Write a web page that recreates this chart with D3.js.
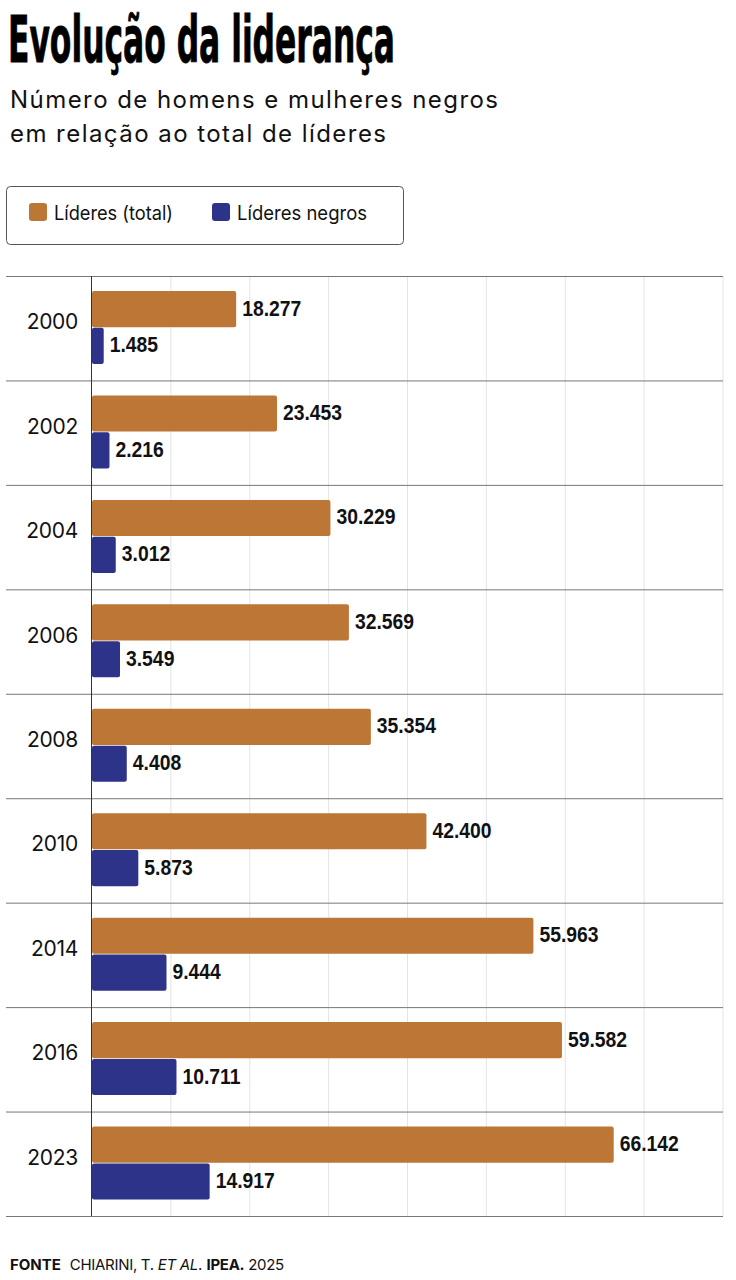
<!DOCTYPE html>
<html><head><meta charset="utf-8">
<script src="https://cdn.jsdelivr.net/npm/d3@7"></script>
<style>body{margin:0;background:#fff}svg{display:block}</style>
</head><body>
<script>
const years = ["2000","2002","2004","2006","2008","2010","2014","2016","2023"];
const totalLeaders = [18277,23453,30229,32569,35354,42400,55963,59582,66142];
const blackLeaders = [1485,2216,3012,3549,4408,5873,9444,10711,14917];
const seriesNames = ["Líderes (total)","Líderes negros"];
const xTicks = [0,10000,20000,30000,40000,50000,60000,70000,80000];

const W=736,H=1280;
const colors=["#BC7635","#2E338A"];
const svg=d3.select("body").append("svg").attr("width",W).attr("height",H);

const condensed='"DejaVu Sans Condensed","Liberation Sans",sans-serif';
const arial='"Liberation Sans",Arial,sans-serif';
const sans='Inter,"Noto Sans",sans-serif';

svg.append("text").attr("x",8).attr("y",62).text("Evolução da liderança")
  .attr("font-family",condensed).attr("font-weight",700).attr("font-size",64)
  .attr("textLength",387).attr("lengthAdjust","spacingAndGlyphs").attr("fill","#000")
  .attr("stroke","#000").attr("stroke-width",0.8);
svg.append("text").attr("x",10).attr("y",108).text("Número de homens e mulheres negros")
  .attr("font-family",sans).attr("font-size",24).attr("textLength",488).attr("lengthAdjust","spacing").attr("fill","#111");
svg.append("text").attr("x",10).attr("y",142).text("em relação ao total de líderes")
  .attr("font-family",sans).attr("font-size",24).attr("textLength",376).attr("lengthAdjust","spacing").attr("fill","#111");

svg.append("rect").attr("x",6.5).attr("y",186.5).attr("width",397).attr("height",58).attr("rx",4)
  .attr("fill","none").attr("stroke","#555");
const legX=[29,212];
const legW=[119,130];
seriesNames.forEach((n,i)=>{
  svg.append("rect").attr("x",legX[i]).attr("y",203).attr("width",18).attr("height",18).attr("rx",3).attr("fill",colors[i]);
  svg.append("text").attr("x",legX[i]+25).attr("y",220).text(n)
    .attr("font-family",sans).attr("font-size",19.5).attr("textLength",legW[i]).attr("lengthAdjust","spacingAndGlyphs").attr("fill","#111");
});

const x=d3.scaleLinear().domain([0,80000]).range([92,723]);
const y=d3.scaleBand().domain(years).range([276,1216]);
const sub=d3.scaleBand().domain([0,1]).range([15,88]).paddingInner(0.02);

const g=svg.append("g");
g.selectAll("line.grid").data(xTicks.slice(1)).join("line")
  .attr("x1",d=>x(d)).attr("x2",d=>x(d)).attr("y1",276).attr("y2",1216)
  .attr("stroke","#e4e4e4").attr("stroke-width",1);

years.forEach((yr,i)=>{
  const vals=[totalLeaders[i],blackLeaders[i]];
  vals.forEach((v,j)=>{
    const y0=y(yr)+sub(j);
    g.append("rect").attr("x",x(0)).attr("y",y0).attr("width",x(v)-x(0)).attr("height",sub.bandwidth())
      .attr("rx",2).attr("fill",colors[j]);
    g.append("text").attr("transform",`translate(${x(v)+6},${y0+sub.bandwidth()/2+6.5}) scale(0.86,1)`)
      .text(d3.format(",")(v).replace(/,/g,"."))
      .attr("font-family",arial).attr("font-weight",700).attr("font-size",22.5).attr("fill","#111");
  });
  g.append("text").attr("x",78).attr("y",y(yr)+y.bandwidth()/2+1).attr("text-anchor","end")
    .text(yr).attr("font-family",sans).attr("font-size",21).attr("letter-spacing",-0.3).attr("fill","#111");
});

g.selectAll("line.sep").data(years.map(d=>y(d)).concat([1216])).join("line")
  .attr("x1",6).attr("x2",723).attr("y1",d=>d+0.5).attr("y2",d=>d+0.5)
  .attr("stroke","#777").attr("stroke-width",1);
g.append("line").attr("x1",x(0)-0.5).attr("x2",x(0)-0.5).attr("y1",276).attr("y2",1216).attr("stroke","#333");

const f=svg.append("text").attr("x",10).attr("y",1270).attr("font-size",15).attr("fill","#111");
f.append("tspan").text("FONTE").attr("font-family",sans).attr("font-weight",700);
f.append("tspan").text(" CHIARINI, T. ").attr("font-family",sans).attr("dx",5).attr("letter-spacing",-0.3);
f.append("tspan").text("ET AL").attr("font-family",sans).attr("font-style","italic").attr("letter-spacing",-0.3);
f.append("tspan").text(". ").attr("font-family",sans);
f.append("tspan").text("IPEA.").attr("font-family",sans).attr("font-weight",700).attr("letter-spacing",-0.3);
f.append("tspan").text(" 2025").attr("font-family",sans).attr("letter-spacing",-0.3);
</script>
</body></html>
